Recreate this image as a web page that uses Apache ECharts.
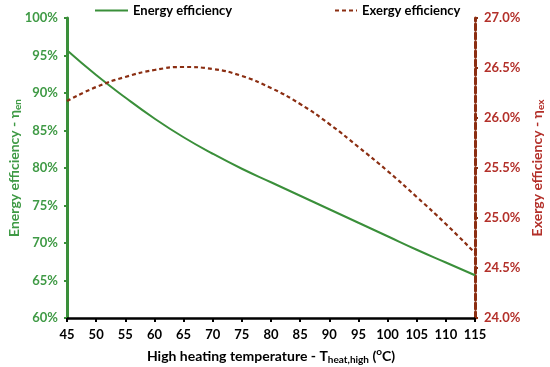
<!DOCTYPE html>
<html><head><meta charset="utf-8">
<script src="https://cdn.jsdelivr.net/npm/echarts@6/dist/echarts.min.js"></script>
<style>html,body{margin:0;padding:0;background:#fff}#c{width:550px;height:367px}</style>
</head><body><div id="c"></div>
<script>
const temps = [45,50,55,60,65,70,75,80,85,90,95,100,105,110,115];
const energyEff = [95.7,92.4,89.4,86.6,84.1,81.9,79.9,78.1,76.3,74.5,72.7,70.9,69.1,67.4,65.7];
const exergyEff = [26.17,26.31,26.41,26.48,26.51,26.49,26.42,26.30,26.14,25.94,25.71,25.47,25.21,24.94,24.65];
const seriesNames = ['Energy efficiency','Exergy efficiency'];

const green = '#3a8f3a', greenTxt = '#3f9a45', brown = '#8b2e12', red = '#b3302a';
const font = 'Lato';
const chart = echarts.init(document.getElementById('c'));
chart.setOption({
  animation:false,
  textStyle:{fontFamily:font},
  grid:{left:67,right:75,top:18,bottom:49,outerBoundsMode:'none',containLabel:false},
  legend:[
    {data:[seriesNames[0]],left:94,top:4,padding:0,itemWidth:33,itemHeight:14,itemGap:3,
     itemStyle:{opacity:0},
     textStyle:{fontFamily:font,fontWeight:'bold',fontSize:13,color:'#000'}},
    {data:[seriesNames[1]],left:334,top:4,padding:0,itemWidth:22,itemHeight:14,itemGap:3,
     itemStyle:{opacity:0},
     textStyle:{fontFamily:font,fontWeight:'bold',fontSize:13,color:'#000'}}
  ],
  xAxis:{type:'value',min:45,max:115,interval:5,
    axisLine:{lineStyle:{color:'#000',width:2.5}},
    axisTick:{show:true,length:4,lineStyle:{color:'#000',width:2}},
    splitLine:{show:false},
    axisLabel:{color:'#000',fontWeight:'bold',fontSize:13,margin:10,fontFamily:font},
    name:'{a|High heating temperature - T}{s|heat,high}{a| (}{p|o}{a|C)}',
    nameLocation:'middle',nameGap:29,nameMoveOverlap:false,
    nameTextStyle:{rich:{
      a:{fontFamily:font,fontWeight:'bold',fontSize:14,color:'#000'},
      s:{fontFamily:font,fontWeight:'bold',fontSize:10,color:'#000',verticalAlign:'bottom',padding:[8,0,0,0]},
      p:{fontFamily:font,fontWeight:'bold',fontSize:10,color:'#000',verticalAlign:'top',padding:[0,0,6,0]}
    }}
  },
  yAxis:[
    {type:'value',min:60,max:100,interval:5,position:'left',
     axisLine:{show:true,lineStyle:{color:green,width:3}},
     axisTick:{show:true,length:3,lineStyle:{color:green,width:2}},
     splitLine:{show:false},
     axisLabel:{formatter:'{value}%',color:greenTxt,fontWeight:'bold',fontSize:13,margin:9,fontFamily:font},
     name:'{a|Energy efficiency - η}{s|en}',nameLocation:'middle',nameGap:44,nameRotate:90,nameMoveOverlap:false,
     nameTextStyle:{rich:{
       a:{fontFamily:font,fontWeight:'bold',fontSize:14,color:greenTxt},
       s:{fontFamily:font,fontWeight:'bold',fontSize:10,color:greenTxt,verticalAlign:'bottom',padding:[8,0,0,0]}
     }}},
    {type:'value',min:24,max:27,interval:0.5,position:'right',
     axisLine:{show:true,lineStyle:{color:brown,width:3,type:[6,3]}},
     axisTick:{show:true,length:3,lineStyle:{color:brown,width:2}},
     splitLine:{show:false},
     axisLabel:{formatter:v=>v.toFixed(1)+'%',color:red,fontWeight:'bold',fontSize:13,margin:9,fontFamily:font},
     name:'{a|Exergy efficiency - η}{s|ex}',nameLocation:'middle',nameGap:53,nameRotate:90,nameMoveOverlap:false,
     nameTextStyle:{rich:{
       a:{fontFamily:font,fontWeight:'bold',fontSize:14,color:red},
       s:{fontFamily:font,fontWeight:'bold',fontSize:10,color:red,verticalAlign:'bottom',padding:[8,0,0,0]}
     }}}
  ],
  series:[
    {name:seriesNames[0],type:'line',yAxisIndex:0,smooth:true,showSymbol:false,symbol:'none',
     data:temps.map((t,i)=>[t,energyEff[i]]),lineStyle:{color:green,width:2},itemStyle:{color:green}},
    {name:seriesNames[1],type:'line',yAxisIndex:1,smooth:true,showSymbol:false,symbol:'none',
     data:temps.map((t,i)=>[t,exergyEff[i]]),lineStyle:{color:brown,width:2.2,type:[4,3]},itemStyle:{color:brown}}
  ]
});
</script></body></html>
